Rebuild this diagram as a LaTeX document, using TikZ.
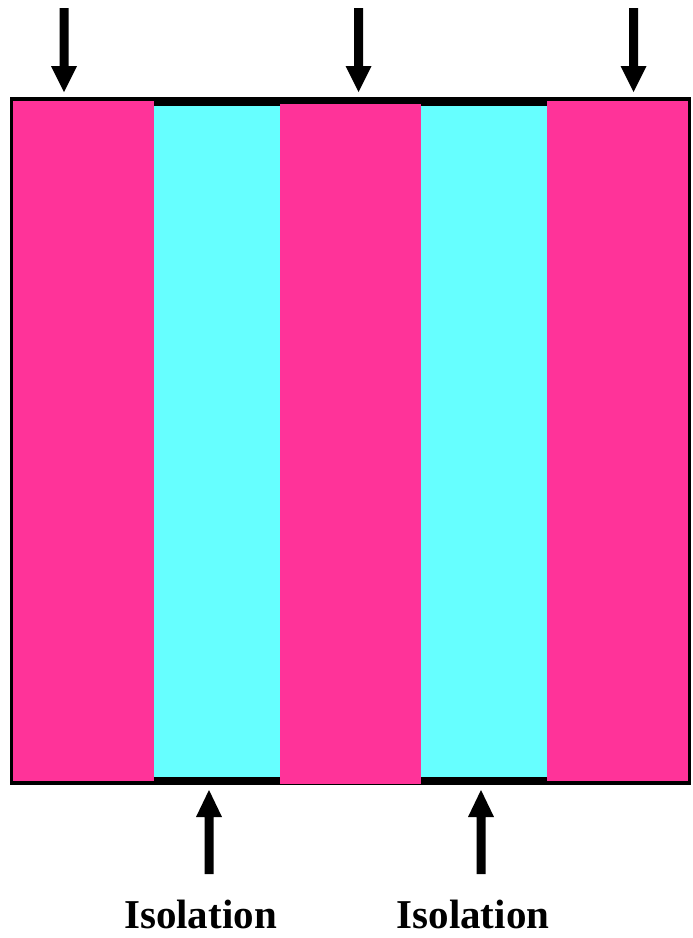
\documentclass[tikz,border=0pt]{standalone}
\usepackage{fontspec}
\setmainfont{Liberation Serif}
\definecolor{mag}{RGB}{255,51,153}
\definecolor{cya}{RGB}{102,255,255}
\tikzset{
  downarrow/.pic={\fill[black] (-4.5,0) -- (4.5,0) -- (4.5,58) -- (13,58) -- (0,84) -- (-13,58) -- (-4.5,58) -- cycle;},
  uparrow/.pic={\fill[black] (0,0) -- (13,27) -- (4.5,27) -- (4.5,84) -- (-4.5,84) -- (-4.5,27) -- (-13,27) -- cycle;},
  lbl/.style={font=\fontsize{41}{41}\selectfont\bfseries, inner sep=0pt, anchor=base}
}
\begin{document}
\begin{tikzpicture}[x=1pt,y=-1pt]
\useasboundingbox (0,0) rectangle (693,938);
\fill[black] (10,97) rectangle (691,785);
\fill[mag] (13,101) rectangle (154,781);
\fill[cya] (154,106) rectangle (280,777);
\fill[mag] (280,104) rectangle (421,784);
\fill[cya] (421,106) rectangle (547,777);
\fill[mag] (547,101) rectangle (688,781);
\pic at (64,8) {downarrow};
\pic at (358.5,8) {downarrow};
\pic at (633.5,8) {downarrow};
\pic at (209,790) {uparrow};
\pic at (481,790) {uparrow};
\node[lbl] (iso1) at (200.5,928) {Isolation};
\node[lbl] (iso2) at (473,928) {Isolation};
\end{tikzpicture}
\end{document}
